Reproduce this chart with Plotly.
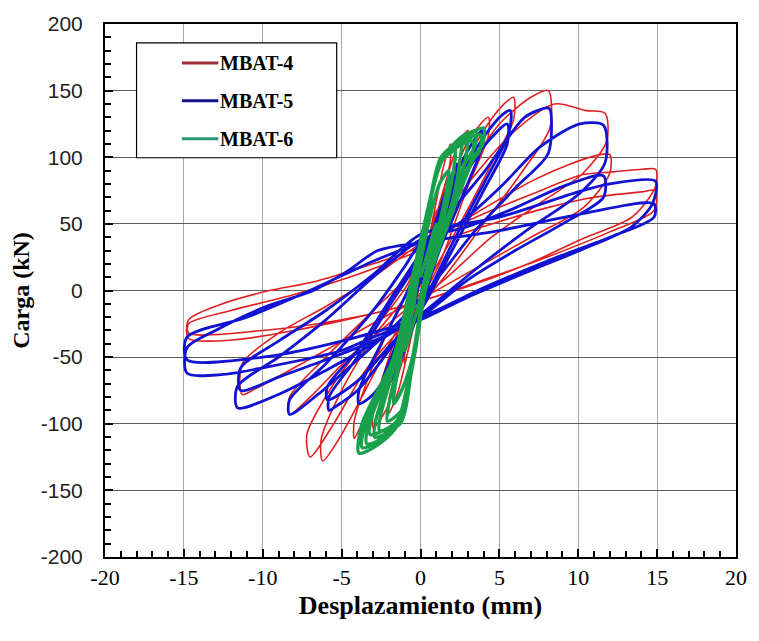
import plotly.graph_objects as go

# ---------------- data ----------------
SERIES_NAMES = ["MBAT-4", "MBAT-5", "MBAT-6"]

MBAT4_X = [0, 0.5, 1.0, 1.0, 0.5, 0, -0.5, -1.0, -1.0, -0.5,
           0, 0.8, 1.5, 1.9, 1.9, 1.2, 0.3, -0.6, -1.4, -2.0, -2.0, -1.2, -0.4,
           0, 1.2, 2.4, 3.0, 3.0, 2.0, 0.6, -0.8, -2.2, -3.0, -3.0, -2.0, -0.6,
           0, 1.5, 3.0, 4.3, 4.3, 3.0, 1.2, -0.8, -2.5, -3.8, -4.2, -4.2, -2.8, -1.0,
           0, 2.0, 4.0, 5.3, 5.9, 5.9, 4.5, 2.5, 0.5, -1.5, -3.5, -5.2, -6.2, -6.3, -5.0, -3.0, -1.0,
           0, 2.5, 5.0, 7.0, 8.1, 8.2, 6.5, 4.0, 1.5, -1.0, -3.5, -5.5, -7.0, -7.2, -5.5, -3.0, -0.8,
           0, 3.0, 6.0, 8.5, 10.5, 11.7, 11.8, 10.3, 7.5, 4.5, 1.5, -1.5, -4.5, -7.0, -8.3, -8.3, -6.0, -3.0, -0.5,
           0, 3.5, 7.2, 9.5, 11.4, 12.0, 12.0, 10.3, 7.0, 4.0, 1.0, -2.0, -5.0, -8.0, -10.5, -11.3, -11.3, -9.0, -6.0, -3.0,
           0, 3.5, 7.2, 10.3, 12.2, 14.1, 14.9, 14.9, 13.4, 10.3, 7.2, 3.5, 0, -4.0, -8.0, -11.8, -14.7, -14.7, -12.8, -9.9, -6.6, -3.0,
           0, 4.0, 8.0, 11.0, 14.0, 14.9, 14.8, 12.0, 8.0, 4.0, 0, -5.0, -10.0, -14.7, -14.7, -12.0, -8.0, -4.0, 0]
MBAT4_Y = [3, 35, 60, 52, 22, -3, -30, -55, -48, -20,
           8, 55, 95, 110, 98, 60, 10, -35, -75, -92, -82, -45, -10,
           12, 65, 110, 120, 108, 65, 8, -40, -90, -103, -92, -50, -5,
           15, 65, 112, 130, 116, 78, 20, -25, -70, -102, -111, -98, -50, -5,
           18, 75, 120, 140, 145, 128, 95, 50, 8, -30, -75, -112, -128, -112, -75, -35, -5,
           25, 80, 125, 145, 150, 122, 90, 50, 10, -25, -60, -100, -125, -108, -70, -30, 5,
           30, 80, 120, 140, 135, 133, 112, 88, 65, 40, 8, -20, -50, -80, -93, -80, -50, -15, 15,
           32, 58, 83, 95, 102, 102, 88, 62, 40, 20, 0, -18, -38, -58, -74, -78, -55, -32, -12, 10,
           35, 55, 73, 87, 89, 91, 91, 78, 55, 39, 22, 5, -8, -20, -30, -37, -36, -22, -11, -1, 7, 20,
           32, 48, 62, 70, 74, 75, 60, 44, 25, 8, -8, -22, -30, -32, -25, -15, -3, 12, 30]

MBAT5_X = [0, 0.6, 1.2, 1.2, 0.5, 0, -0.6, -1.2, -1.2, -0.5,
           0, 1.2, 2.3, 2.3, 1.3, 0, -1.2, -2.4, -2.4, -1.2,
           0, 1.5, 3.0, 3.9, 3.9, 2.8, 1.2, 0, -1.5, -3.0, -3.9, -3.9, -2.5, -1.0,
           0, 2.0, 4.0, 5.2, 5.7, 5.6, 4.0, 2.0, 0, -2.0, -4.0, -5.5, -5.8, -5.8, -4.0, -2.0,
           0, 2.0, 4.0, 5.5, 5.5, 4.0, 2.0, 0, -2.0, -4.0, -5.9, -5.9, -4.0, -2.0,
           0.3, 2.0, 4.1, 6.6, 8.0, 8.2, 8.1, 6.1, 3.4, 1.0, -1.5, -4.0, -6.5, -8.3, -8.3, -6.0, -3.0, -1.0,
           0, 2.4, 5.1, 7.6, 10.1, 11.6, 11.7, 10.1, 6.6, 3.4, 0, -3.0, -6.0, -9.0, -11.6, -11.6, -9.0, -6.0, -3.0,
           0, 3.0, 6.0, 9.0, 11.6, 11.6, 9.0, 6.0, 3.0, 0, -3.0, -6.0, -9.0, -11.4, -11.4, -9.0, -6.0, -3.0,
           0, 5.0, 10.0, 12.0, 14.9, 14.7, 13.4, 10.3, 7.2, 3.0, 0, -3.0, -5.0, -10.0, -12.5, -14.8, -14.8, -13.0, -10.0, -6.8, -4.7, -2.7,
           0, 5.0, 10.0, 14.8, 14.8, 12.0, 8.0, 4.0, 0, -5.0, -10.0, -14.8, -14.8, -11.0, -7.0, -3.0, 0]
MBAT5_Y = [5, 35, 58, 50, 20, -5, -30, -50, -42, -15,
           10, 60, 95, 85, 45, -10, -50, -78, -68, -30,
           15, 65, 105, 120, 108, 75, 30, -12, -50, -78, -85, -75, -40, -5,
           22, 75, 115, 132, 135, 118, 80, 35, -12, -45, -75, -88, -90, -80, -50, -12,
           25, 70, 108, 125, 110, 75, 30, -15, -42, -68, -82, -72, -45, -8,
           33, 60, 90, 130, 137, 136, 103, 78, 44, 8, -25, -52, -78, -93, -82, -55, -15, 18,
           35, 50, 78, 108, 125, 124, 96, 73, 44, 15, -18, -40, -60, -78, -88, -72, -50, -22, 10,
           38, 48, 62, 78, 86, 70, 50, 30, 8, -20, -38, -52, -65, -75, -58, -38, -15, 12,
           42, 55, 74, 80, 82, 65, 48, 31, 16, -5, -22, -35, -45, -58, -63, -62, -43, -30, -13, 0, 14, 30,
           36, 45, 57, 65, 55, 40, 22, 2, -20, -38, -50, -52, -35, -20, 0, 22, 36]

MBAT6_X = [0, 0.5, 1.0, 1.0, 0.4, -0.1, -0.6, -1.0, -1.0, -0.4,
           -0.3, 0.5, 1.2, 1.8, 1.75, 1.3, 0.2, -0.5, -1.2, -1.7, -1.65, -1.0,
           -0.4, 0.4, 1.2, 2.2, 2.15, 1.5, 0.25, -0.5, -1.2, -2.1, -2.05, -1.3,
           -0.5, 0.35, 1.3, 2.6, 2.55, 2.0, 0.3, -0.45, -1.3, -2.6, -2.55, -1.5,
           -0.55, 0.3, 1.4, 3.0, 2.95, 2.3, 0.3, -0.45, -1.4, -2.9, -2.85, -1.6,
           -0.6, 0.3, 1.4, 2.6, 3.5, 3.45, 2.8, 1.6, 0.3, -0.4, -1.4, -2.5, -3.4, -3.3, -1.7,
           -0.6, 0.3, 1.4, 2.7, 4.0, 3.95, 3.4, 1.75, 0.3, -0.4, -1.4, -2.6, -3.9, -3.7, -1.7,
           -0.7, 0.25, 1.35, 2.6, 3.8, 3.75, 3.2, 1.7, 0.25, -0.5, -1.5, -2.6, -3.7, -3.5, -1.7,
           -0.65, 0.3, 1.5, 3.3, 3.25, 2.6, 0.3, -0.5, -1.5, -3.2, -3.1, -1.6, -0.6]
MBAT6_Y = [10, 30, 50, 45, 15, -10, -30, -45, -40, -10,
           0, 50, 80, 90, 82, 55, 0, -50, -75, -85, -75, -35,
           0, 50, 95, 105, 95, 55, 0, -50, -90, -98, -88, -50,
           0, 50, 100, 112, 102, 65, 0, -50, -100, -105, -95, -50,
           0, 50, 100, 118, 106, 70, 0, -50, -100, -110, -98, -50,
           0, 50, 100, 114, 120, 108, 95, 50, 0, -50, -100, -112, -115, -100, -50,
           0, 50, 100, 114, 122, 110, 100, 50, 0, -50, -100, -115, -122, -100, -50,
           0, 50, 98, 111, 117, 105, 96, 50, 0, -50, -100, -112, -118, -100, -50,
           0, 50, 100, 112, 100, 80, 0, -50, -98, -108, -95, -50, 0]

X_TICKS = [-20, -15, -10, -5, 0, 5, 10, 15, 20]
Y_TICKS = [-200, -150, -100, -50, 0, 50, 100, 150, 200]

COLORS = ["#E02020", "#1212D2", "#18A04A"]
LEGEND_COLORS = ["#A0303A", "#15158A", "#2A9870"]
WIDTHS = [1.6, 2.8, 3.4]

# ---------------- figure ----------------
fig = go.Figure()
for name, xs, ys, c, w in zip(SERIES_NAMES, [MBAT4_X, MBAT5_X, MBAT6_X],
                              [MBAT4_Y, MBAT5_Y, MBAT6_Y], COLORS, WIDTHS):
    fig.add_trace(go.Scatter(x=xs, y=ys, mode="lines", name=name,
                             line=dict(color=c, width=w, shape="spline", smoothing=0.8),
                             showlegend=False))

L, R, T, B = 105, 14, 23, 84
W, H = 759, 641
pw, ph = W - L - R, H - T - B

def px(xp):
    return (xp - L) / pw

def py(yp):
    return (H - B - yp) / ph

# manual legend box
shapes = [dict(type="rect", xref="paper", yref="paper",
               x0=px(137), x1=px(340), y0=py(157), y1=py(42),
               line=dict(color="black", width=1.2), fillcolor="white", layer="above")]
annotations = []
for i, (name, c) in enumerate(zip(SERIES_NAMES, LEGEND_COLORS)):
    yy = 62 + 38 * i
    shapes.append(dict(type="line", xref="paper", yref="paper",
                       x0=px(183), x1=px(220), y0=py(yy), y1=py(yy),
                       line=dict(color=c, width=3), layer="above"))
    annotations.append(dict(xref="paper", yref="paper", x=px(220), y=py(yy),
                            text="<b>%s</b>" % name, showarrow=False, xanchor="left", yanchor="middle",
                            font=dict(family="Liberation Serif", size=20, color="black")))

fig.update_layout(
    width=W, height=H,
    margin=dict(l=L, r=R, t=T, b=B),
    paper_bgcolor="white", plot_bgcolor="white",
    shapes=shapes, annotations=annotations,
    xaxis=dict(range=[-20, 20], tickvals=X_TICKS, ticktext=[str(v) for v in X_TICKS],
               showgrid=True, gridcolor="#A8A8A8", gridwidth=1,
               zeroline=False, showline=True, linecolor="black", linewidth=2, mirror=True,
               ticks="inside", ticklen=8, tickcolor="black", tickwidth=1.5,
               minor=dict(dtick=1, ticks="inside", ticklen=6, tickcolor="black", tickwidth=1.5, showgrid=False),
               tickfont=dict(family="Liberation Serif", size=22, color="black"),
               title=dict(text="<b>Desplazamiento (mm)</b>", standoff=6,
                          font=dict(family="Liberation Serif", size=26, color="black"))),
    yaxis=dict(range=[-200, 200], tickvals=Y_TICKS, ticktext=[str(v) for v in Y_TICKS],
               showgrid=True, gridcolor="#5A5A5A", gridwidth=1,
               zeroline=False, showline=True, linecolor="black", linewidth=2, mirror=True,
               ticks="inside", ticklen=8, tickcolor="black", tickwidth=1.5,
               minor=dict(dtick=10, ticks="inside", ticklen=6, tickcolor="black", tickwidth=1.5, showgrid=False),
               ticklabelstandoff=16,
               tickfont=dict(family="Liberation Sans", size=21, color="#222222"),
               title=dict(text="<b>Carga (kN)</b>", standoff=4,
                          font=dict(family="Liberation Serif", size=24, color="black"))),
)

fig.write_html("out.html")
